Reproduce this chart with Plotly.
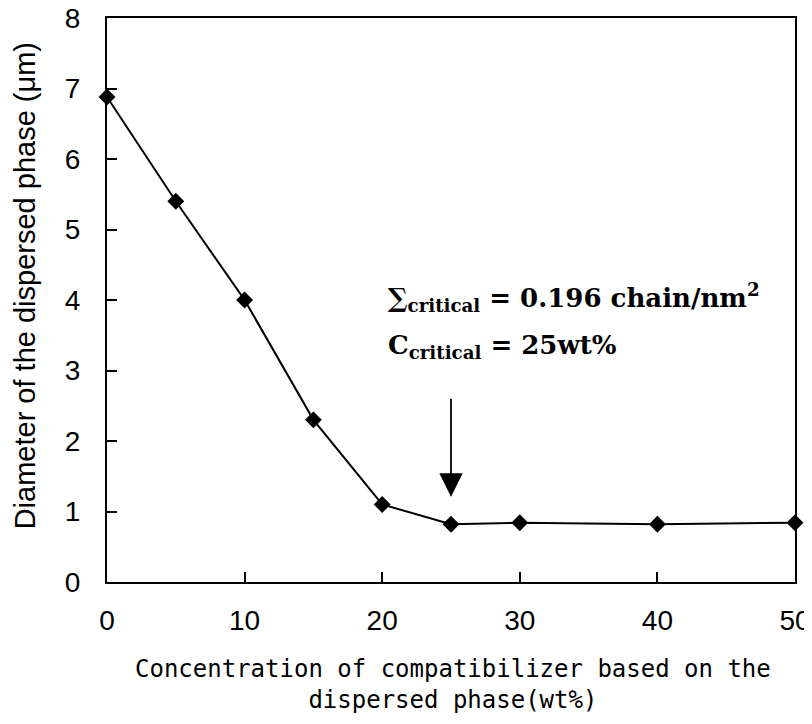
import plotly.graph_objects as go

conc = [0, 5, 10, 15, 20, 25, 30, 40, 50]
diameter = [6.88, 5.40, 4.00, 2.30, 1.10, 0.82, 0.84, 0.82, 0.84]
x_ticks = [0, 10, 20, 30, 40, 50]
y_ticks = [0, 1, 2, 3, 4, 5, 6, 7, 8]
arrow_x = 25
arrow_top = 2.62
arrow_tip = 1.21

fig = go.Figure()
fig.add_trace(go.Scatter(
    x=conc, y=diameter, mode="lines+markers",
    line=dict(color="black", width=2),
    marker=dict(symbol="diamond", size=13, color="black"),
    showlegend=False, cliponaxis=False,
))

fig.add_annotation(
    x=arrow_x, y=arrow_tip, ax=arrow_x, ay=arrow_top,
    xref="x", yref="y", axref="x", ayref="y",
    showarrow=True, arrowhead=2, arrowsize=2.6, arrowwidth=1.8,
    arrowcolor="black", text="",
)

serif = dict(family="DejaVu Serif", size=26, color="black")
fig.add_annotation(
    x=0.406, y=0.505, xref="paper", yref="paper", xanchor="left", yanchor="middle",
    text="<b>∑<sub>critical</sub> = 0.196 chain/nm<sup>2</sup></b>",
    showarrow=False, font=serif,
)
fig.add_annotation(
    x=0.406, y=0.417, xref="paper", yref="paper", xanchor="left", yanchor="middle",
    text="<b>C<sub>critical</sub> = 25wt%</b>",
    showarrow=False, font=serif,
)

# axis titles
fig.add_annotation(
    x=0.503, y=-0.181, xref="paper", yref="paper", xanchor="center", yanchor="middle",
    text="Concentration of compatibilizer based on the<br>dispersed phase(wt%)",
    showarrow=False, font=dict(family="DejaVu Sans Mono", size=24, color="black"),
)
fig.add_annotation(
    x=-0.120, y=0.525, xref="paper", yref="paper", xanchor="center", yanchor="middle",
    text="Diameter of the dispersed phase (μm)", textangle=-90,
    showarrow=False, font=dict(family="Liberation Sans", size=29, color="black"),
)

axis_common = dict(
    showline=True, linecolor="black", linewidth=2, mirror=True,
    ticks="inside", ticklen=10, tickwidth=1.5, tickcolor="black",
    showgrid=False, zeroline=False, automargin=False,
    ticklabeloverflow="allow",
    tickfont=dict(family="Liberation Sans", size=28, color="black"),
)

fig.update_xaxes(range=[0, 50], tickvals=x_ticks, ticklabelstandoff=12, **axis_common)
fig.update_yaxes(range=[0, 8], tickvals=y_ticks, ticklabelstandoff=19, **axis_common)

# the page body adds an 8px offset, so the figure is sized to fit the window
fig.update_layout(
    width=804, height=708,
    margin=dict(l=99, r=17, t=10, b=134, autoexpand=False),
    paper_bgcolor="white", plot_bgcolor="white",
)

fig.write_html("out.html")
